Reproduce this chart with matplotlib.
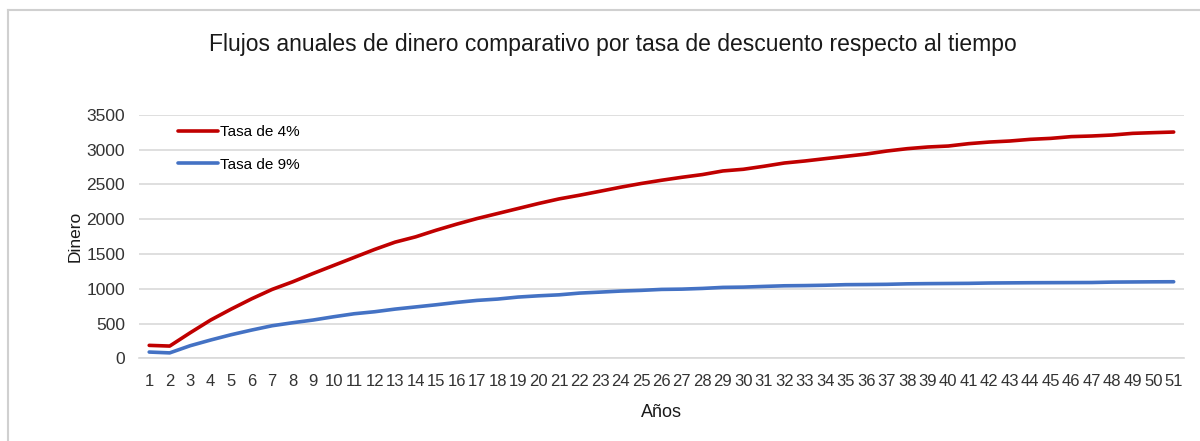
import matplotlib.pyplot as plt
from matplotlib.lines import Line2D

plt.rcParams['font.family'] = ['Liberation Sans', 'DejaVu Sans']

years = list(range(1, 52))

tasa_4 = [186, 176, 367, 550, 707, 855, 990, 1099, 1219, 1334,
          1449, 1564, 1669, 1745, 1840, 1927, 2008, 2080, 2152, 2224,
          2290, 2343, 2400, 2458, 2511, 2558, 2601, 2640, 2692, 2716,
          2759, 2806, 2835, 2869, 2902, 2935, 2978, 3012, 3036, 3050,
          3084, 3107, 3122, 3146, 3160, 3185, 3194, 3208, 3232, 3242,
          3251]

tasa_9 = [90, 78, 181, 263, 339, 406, 468, 511, 550, 597,
          640, 669, 707, 738, 769, 803, 832, 851, 880, 898,
          912, 937, 951, 966, 976, 990, 994, 1004, 1019, 1023,
          1033, 1042, 1045, 1050, 1058, 1060, 1063, 1070, 1073, 1075,
          1077, 1082, 1084, 1086, 1087, 1088, 1089, 1095, 1097, 1099,
          1100]

fig = plt.figure(figsize=(12, 4.41), dpi=100)
ax = fig.add_axes([0.1158, 0.1875, 0.8708, 0.5524])

ax.plot(years, tasa_4, color='#c00000', linewidth=2.6, label='Tasa de 4%',
        solid_joinstyle='round', solid_capstyle='round')
ax.plot(years, tasa_9, color='#4472c4', linewidth=2.6, label='Tasa de 9%',
        solid_joinstyle='round', solid_capstyle='round')

ax.set_xlim(0.5, 51.5)
ax.set_ylim(0, 3500)
ax.set_yticks(range(0, 3501, 500))
ax.set_xticks(years)
ax.set_xticklabels([str(y) for y in years], fontsize=12)
ax.tick_params(axis='y', labelsize=12.5, length=0, pad=10, colors='#333333')
ax.tick_params(axis='x', length=0, pad=11, colors='#333333')
ax.grid(axis='y', color='#d9d9d9', linewidth=1.2)
ax.set_axisbelow(True)
for s in ['top', 'right', 'left']:
    ax.spines[s].set_visible(False)
ax.spines['bottom'].set_color('#d9d9d9')
ax.spines['bottom'].set_linewidth(1.2)

ax.set_xlabel('Años', fontsize=13, labelpad=11, color='#1a1a1a')
ax.set_ylabel('Dinero', fontsize=12.5, labelpad=3, color='#1a1a1a')

ax.legend(loc='upper left', bbox_to_anchor=(0.0373, 0.957), frameon=False,
          fontsize=11, handlelength=2.6, handletextpad=0.15,
          labelspacing=1.2, borderpad=0, borderaxespad=0)

fig.text(0.5104, 0.9, 'Flujos anuales de dinero comparativo por tasa de descuento respecto al tiempo',
         ha='center', va='center', fontsize=16.5, color='#1a1a1a')

# chart border
fig.add_artist(Line2D([8 / 1200, 1], [1 - 10 / 441, 1 - 10 / 441],
                      color='#d0d0d0', linewidth=1.5, transform=fig.transFigure))
fig.add_artist(Line2D([8 / 1200, 8 / 1200], [0, 1 - 10 / 441],
                      color='#d0d0d0', linewidth=1.5, transform=fig.transFigure))

plt.savefig('out.png', dpi=100)
